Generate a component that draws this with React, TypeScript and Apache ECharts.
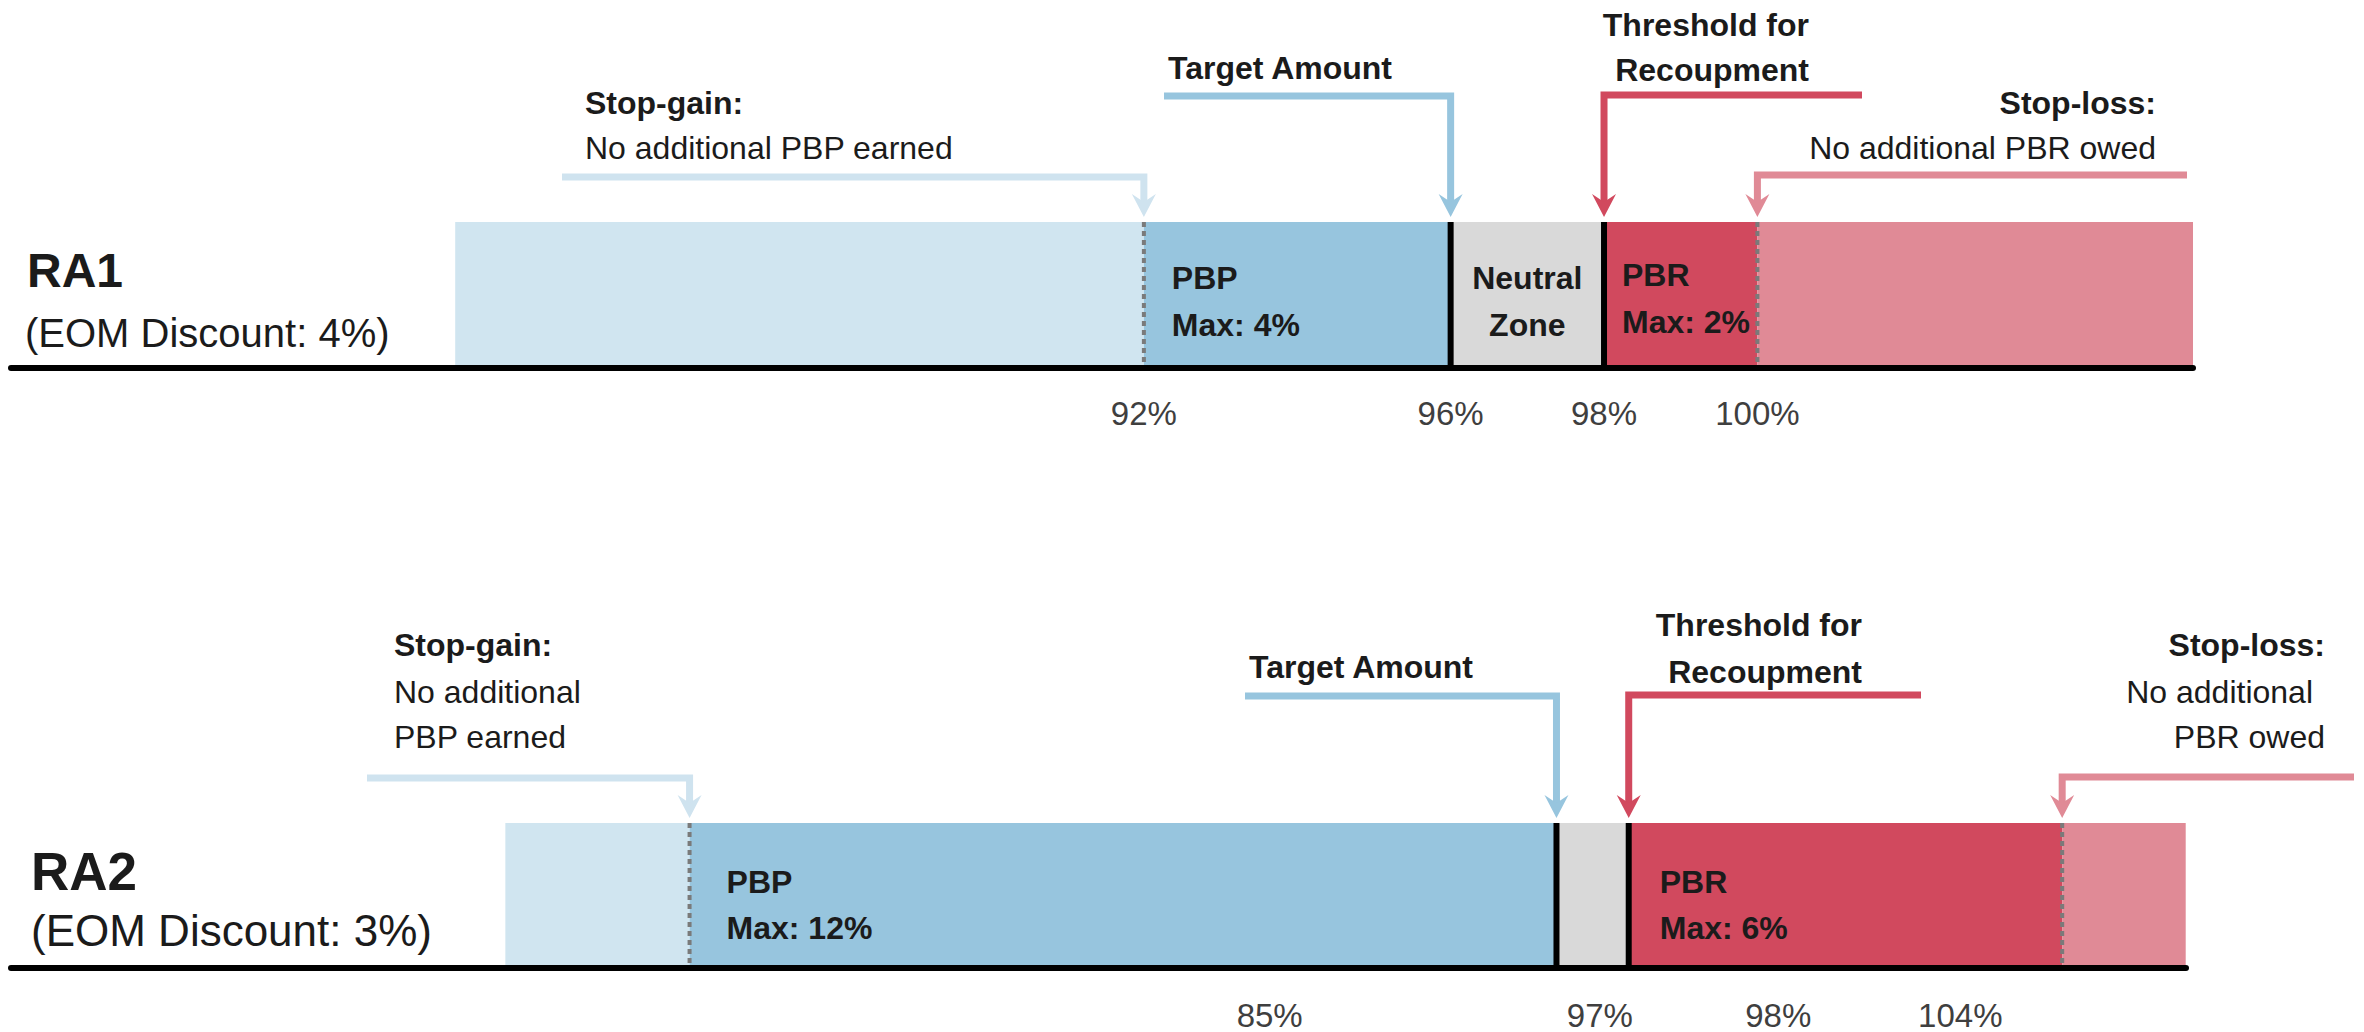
import React, { useEffect, useRef } from "react";
import * as echarts from "echarts";

// ---------- data ----------
// boundaries: bar start, stop-gain, target amount, threshold for recoupment, stop-loss, bar end (percent)
const ra1Bounds = [83.02, 92, 96, 98, 100, 105.68];
const ra2Bounds = [82.45, 85, 97, 98, 104, 105.71];
const zoneNames = ["Beyond stop-gain", "PBP", "Neutral Zone", "PBR", "Beyond stop-loss"];
// boundary styles: 0 = dashed (stop), 1 = solid (target / threshold)
const boundaryKinds = [0, 1, 1, 0];
const ra1TickValues = [92, 96, 98, 100];
const ra1TickLabels = ["92%", "96%", "98%", "100%"];
const ra2TickLabels = ["85%", "97%", "98%", "104%"];
// where the RA2 tick labels sit in the picture (axis units)
const ra2TickAnchors = [93.03, 97.6, 100.07, 102.59];
const rowNames = ["RA1", "RA2"];
const rowDiscounts = ["(EOM Discount: 4%)", "(EOM Discount: 3%)"];
const ra1ZoneLabels = [["PBP", "Max: 4%"], ["Neutral", "Zone"], ["PBR", "Max: 2%"]];
const ra2ZoneLabels = [["PBP", "Max: 12%"], ["PBR", "Max: 6%"]];

// ---------- styles ----------
const FONT = "'Liberation Sans', Arial, sans-serif";
const TEXT = "#1b1b1b";
const zoneColors = ["#d0e5f0", "#97c5de", "#d9d9d9", "#d1495e", "#e08a96"];
const arrowColors = ["#cfe3ef", "#97c5de", "#d1495e", "#e08a96"];

const rowLayout = [
  { left: 11, top: 222, width: 2182, height: 146, min: 77.228, max: 105.68, labelMargin: 45 },
  { left: 11, top: 823, width: 2175, height: 145, min: 75.607, max: 105.714, labelMargin: 47 },
];

// arrows: boundary index (1..4), tail x, elbow y
const arrowLayout = [
  [
    { b: 1, tail: 562, elbow: 177 },
    { b: 2, tail: 1164, elbow: 96 },
    { b: 3, tail: 1862, elbow: 95 },
    { b: 4, tail: 2187, elbow: 175 },
  ],
  [
    { b: 1, tail: 367, elbow: 778 },
    { b: 2, tail: 1245, elbow: 696 },
    { b: 3, tail: 1921, elbow: 695 },
    { b: 4, tail: 2354, elbow: 777 },
  ],
];

type T = { t: string; x: number; y: number; bold?: boolean; align?: string; size?: number; color?: string };
const annotationTexts: T[] = [
  { t: "Stop-gain:", x: 585, y: 103, bold: true },
  { t: "No additional PBP earned", x: 585, y: 148 },
  { t: "Target Amount", x: 1168, y: 68, bold: true },
  { t: "Threshold for", x: 1809, y: 25, bold: true, align: "right" },
  { t: "Recoupment", x: 1809, y: 70, bold: true, align: "right" },
  { t: "Stop-loss:", x: 2156, y: 103, bold: true, align: "right" },
  { t: "No additional PBR owed", x: 2156, y: 148, align: "right" },
  { t: rowNames[0], x: 27, y: 270, bold: true, size: 48 },
  { t: rowDiscounts[0], x: 25, y: 333, size: 40 },

  { t: "Stop-gain:", x: 394, y: 645, bold: true },
  { t: "No additional", x: 394, y: 692 },
  { t: "PBP earned", x: 394, y: 737 },
  { t: "Target Amount", x: 1249, y: 667, bold: true },
  { t: "Threshold for", x: 1862, y: 625, bold: true, align: "right" },
  { t: "Recoupment", x: 1862, y: 672, bold: true, align: "right" },
  { t: "Stop-loss:", x: 2325, y: 645, bold: true, align: "right" },
  { t: "No additional", x: 2313, y: 692, align: "right" },
  { t: "PBR owed", x: 2325, y: 737, align: "right" },
  { t: rowNames[1], x: 31, y: 871, bold: true, size: 53 },
  { t: rowDiscounts[1], x: 31, y: 930, size: 44 },
];

// zone label placement: row, zone index, x offset from zone start (or centred), y of two lines
const zoneLabelLayout = [
  { row: 0, zone: 1, dx: 28, y: [278, 325], lines: ra1ZoneLabels[0] },
  { row: 0, zone: 2, center: true, y: [278, 325], lines: ra1ZoneLabels[1] },
  { row: 0, zone: 3, dx: 18, y: [275, 322], lines: ra1ZoneLabels[2] },
  { row: 1, zone: 1, dx: 37, y: [882, 928], lines: ra2ZoneLabels[0] },
  { row: 1, zone: 3, dx: 31, y: [882, 928], lines: ra2ZoneLabels[1] },
];

function zoneData(bounds: number[]) {
  const out: number[][] = [];
  for (let i = 0; i < bounds.length - 1; i++) out.push([bounds[i], bounds[i + 1], i]);
  return out;
}
function boundaryData(bounds: number[]) {
  return boundaryKinds.map((k, i) => [bounds[i + 1], k]);
}

export default function App() {
  const ref = useRef<HTMLDivElement>(null);
  useEffect(() => {
    if (!ref.current) return;
    const chart = echarts.init(ref.current, undefined, { renderer: "svg" });
    const allBounds = [ra1Bounds, ra2Bounds];

    const rectItem = (params: any, api: any) => {
      const p0 = api.coord([api.value(0), 1]);
      const p1 = api.coord([api.value(1), 0]);
      return {
        type: "rect",
        shape: { x: p0[0], y: p0[1], width: p1[0] - p0[0], height: p1[1] - p0[1] },
        style: { fill: zoneColors[api.value(2)] },
      };
    };
    const lineItem = (params: any, api: any) => {
      const p0 = api.coord([api.value(0), 1]);
      const p1 = api.coord([api.value(0), 0]);
      const solid = api.value(1) === 1;
      return {
        type: "line",
        shape: { x1: p0[0], y1: p0[1], x2: p1[0], y2: p1[1] },
        style: solid
          ? { stroke: "#000", lineWidth: 6 }
          : { stroke: "#7a7a7a", lineWidth: 4, lineDash: [5, 4] },
      };
    };

    const option: any = {
      animation: false,
      backgroundColor: "#fff",
      textStyle: { fontFamily: FONT },
      grid: rowLayout.map((r) => ({ left: r.left, top: r.top, width: r.width, height: r.height })),
      xAxis: rowLayout.map((r, i) => ({
        type: "value",
        gridIndex: i,
        min: r.min,
        max: r.max,
        z: 10,
        axisLine: { show: true, lineStyle: { color: "#000", width: 6 } },
        axisTick: { show: false },
        splitLine: { show: false },
        axisLabel: {
          show: true,
          customValues: i === 0 ? ra1TickValues : ra2TickAnchors,
          formatter: (v: number) => {
            if (i === 0) {
              const k = ra1TickValues.findIndex((t) => Math.abs(t - v) < 1e-6);
              return k >= 0 ? ra1TickLabels[k] : "";
            }
            const k = ra2TickAnchors.findIndex((t) => Math.abs(t - v) < 1e-6);
            return k >= 0 ? ra2TickLabels[k] : "";
          },
          margin: r.labelMargin,
          verticalAlign: "middle",
          fontSize: 33,
          color: "#3f3f3f",
          fontFamily: FONT,
          showMinLabel: true,
          showMaxLabel: true,
        },
      })),
      yAxis: rowLayout.map((r, i) => ({ type: "value", gridIndex: i, min: 0, max: 1, show: false })),
      series: [
        ...allBounds.map((b, i) => ({
          type: "custom",
          name: rowNames[i] + " zones",
          xAxisIndex: i,
          yAxisIndex: i,
          renderItem: rectItem,
          encode: { x: [0, 1] },
          data: zoneData(b),
          z: 2,
        })),
        ...allBounds.map((b, i) => ({
          type: "custom",
          name: rowNames[i] + " boundaries",
          xAxisIndex: i,
          yAxisIndex: i,
          renderItem: lineItem,
          encode: { x: 0 },
          data: boundaryData(b),
          z: 3,
        })),
      ],
    };
    chart.setOption(option);

    const px = (row: number, v: number) => chart.convertToPixel({ xAxisIndex: row } as any, v) as unknown as number;
    const graphics: any[] = [];

    arrowLayout.forEach((row, ri) => {
      const tipY = rowLayout[ri].top - 5;
      row.forEach((a) => {
        const x = px(ri, allBounds[ri][a.b]);
        const color = arrowColors[a.b - 1];
        graphics.push({
          type: "polyline",
          shape: { points: [[a.tail, a.elbow], [x, a.elbow], [x, tipY - 12]] },
          style: { stroke: color, lineWidth: 7, fill: null, lineJoin: "miter" },
          z: 5,
        });
        graphics.push({
          type: "polygon",
          shape: { points: [[x, tipY], [x - 12, tipY - 23], [x, tipY - 15], [x + 12, tipY - 23]] },
          style: { fill: color },
          z: 5,
        });
      });
    });

    annotationTexts.forEach((t) => {
      graphics.push({
        type: "text",
        x: t.x,
        y: t.y,
        z: 6,
        style: {
          text: t.t,
          fill: t.color || TEXT,
          font: `${t.bold ? "bold " : ""}${t.size || 32}px ${FONT}`,
          textAlign: t.align || "left",
          textVerticalAlign: "middle",
        },
      });
    });

    zoneLabelLayout.forEach((z) => {
      const b = allBounds[z.row];
      const x0 = px(z.row, b[z.zone]);
      const x1 = px(z.row, b[z.zone + 1]);
      const x = z.center ? (x0 + x1) / 2 : x0 + (z.dx || 0);
      z.lines.forEach((line, li) => {
        graphics.push({
          type: "text",
          x,
          y: z.y[li],
          z: 6,
          style: {
            text: line,
            fill: TEXT,
            font: `bold 32px ${FONT}`,
            textAlign: z.center ? "center" : "left",
            textVerticalAlign: "middle",
          },
        });
      });
    });

    chart.setOption({ graphic: graphics });
    return () => chart.dispose();
  }, []);
  return (
    <div
      ref={ref}
      style={{ position: "absolute", left: 0, top: 0, width: 2364, height: 1032 }}
    />
  );
}
